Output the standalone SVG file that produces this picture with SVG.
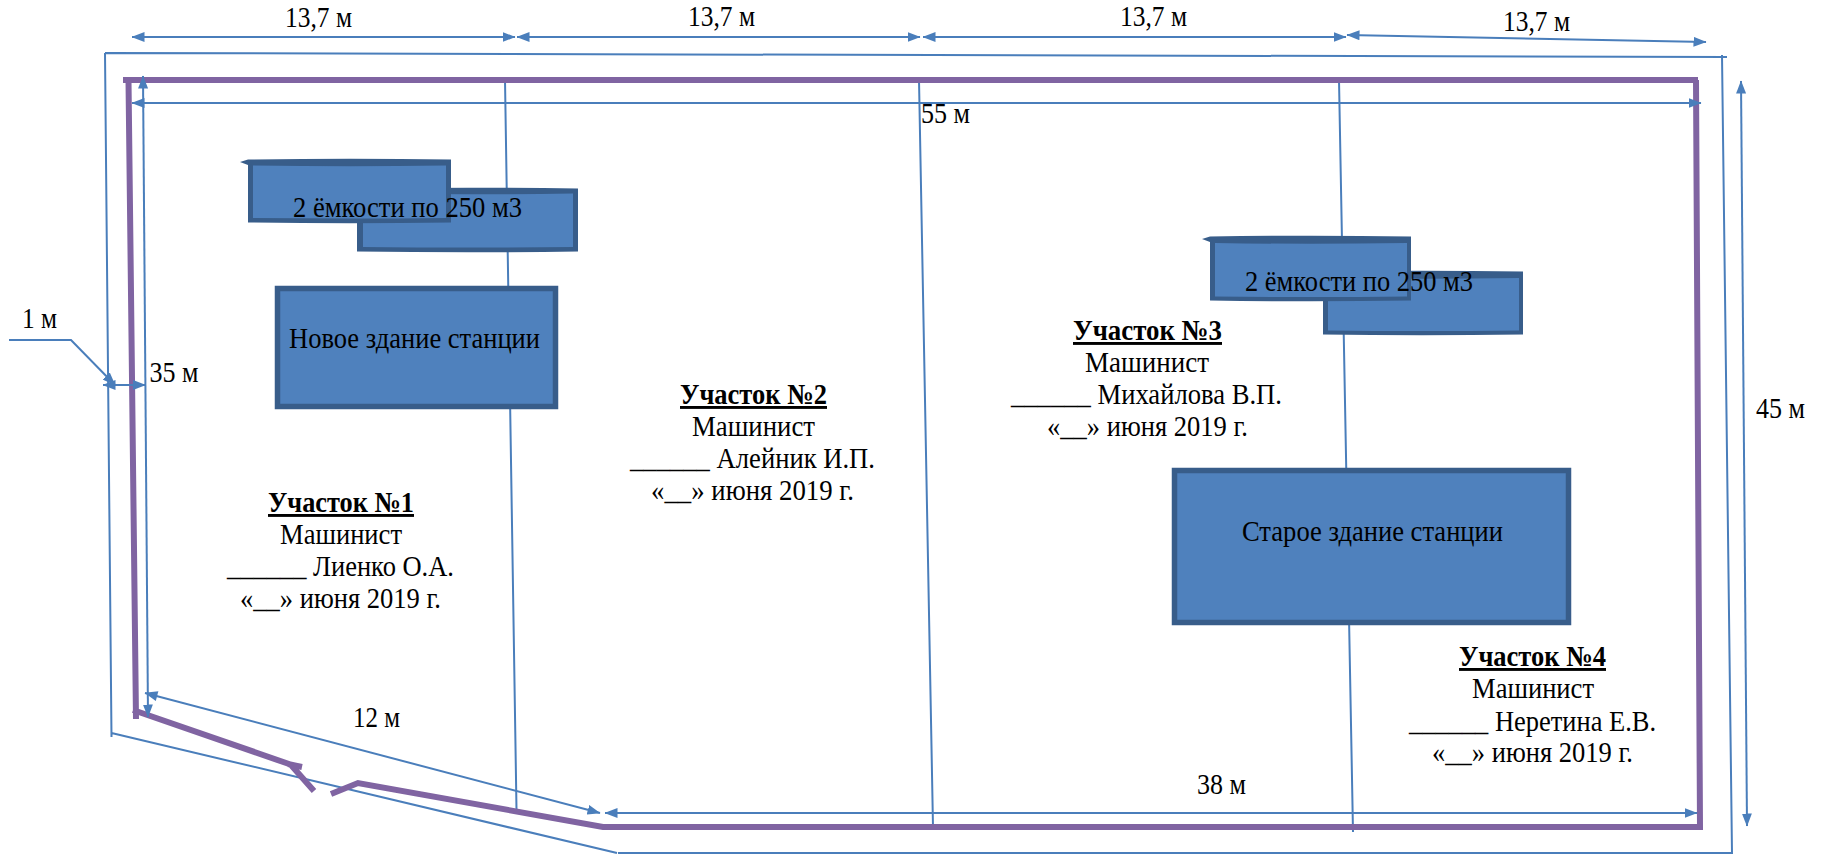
<svg xmlns="http://www.w3.org/2000/svg" width="1826" height="855" viewBox="0 0 1826 855">
<style>
text{font-family:"Liberation Serif","Times New Roman",serif;font-size:29px;fill:#000}
.t{font-weight:bold;text-decoration:underline}
.l{fill:none;stroke:#4a7ebb;stroke-width:2}
.a{marker-start:url(#s);marker-end:url(#e)}
.p{fill:none;stroke:#8064a2;stroke-width:6}
.b{fill:#4f81bd;stroke:#385d8a;stroke-width:5.500}
.o{fill:#385d8a}
.i{fill:#4f81bd}
</style>
<defs>
<marker id="e" markerUnits="userSpaceOnUse" markerWidth="14" markerHeight="10" refX="12.500" refY="5" orient="auto"><path d="M0 0L13 5L0 10z" fill="#4a7ebb"/></marker>
<marker id="s" markerUnits="userSpaceOnUse" markerWidth="14" markerHeight="10" refX="0.500" refY="5" orient="auto"><path d="M13 0L0 5L13 10z" fill="#4a7ebb"/></marker>
</defs>
<rect width="1826" height="855" fill="#fff"/>
<g id="connectors">
<path class="l" d="M105 53L1727 57M1722 55L1732 853H618M617 853L111.500 733M105 53L111.500 737"/>
<path class="l" d="M505 80L516.500 810M919 80L933 827M1339 80L1353 832"/>
<path class="p" d="M123 80H1698M128.500 80L136 719M133 710L292 765M288 764L302 767M291 765L314 791M331 794L358 783L603 827H1700L1696 80"/>
<path class="l a" d="M132 37H515"/>
<path class="l a" d="M517 37H920"/>
<path class="l a" d="M923 37H1346"/>
<path class="l a" d="M1347 35L1706 42"/>
<path class="l a" d="M132 103H1701"/>
<path class="l a" d="M143 76L148 717"/>
<path class="l a" d="M1741 81L1747 826"/>
<path class="l a" d="M605 813H1697"/>
<path class="l a" d="M145 693L600 813"/>
<path class="l a" d="M103 385H145.500"/>
<path class="l" d="M9 340H71L115 385" marker-end="url(#e)"/>
</g>
<g id="tank-2"><path class="o" d="M357 188.500Q470 187 578 188.500V251.500Q470 253 357 251.500z"/><path class="i" d="M363 193.500Q470 195 573 193.500V247Q470 248 363 247z"/></g>
<g id="tank-1"><path class="o" d="M240 162L248 159.500Q350 158 451 159.500V222.500Q350 224 248 222.500V165z"/><path class="i" d="M253 165.500Q350 167 446 165.500V218Q350 219 253 218z"/></g>
<g id="tank-label-1"><text x="293" y="217" textLength="229" lengthAdjust="spacingAndGlyphs">2 ёмкости по 250 м3</text></g>
<g id="tank-4"><path class="o" d="M1323 271.500Q1420 270 1523 271.500V334.500Q1420 336 1323 334.500z"/><path class="i" d="M1328 278Q1420 279.500 1519 278V330.500Q1420 331.500 1328 330.500z"/></g>
<g id="tank-3"><path class="o" d="M1202 239L1210 236.500Q1310 235 1411 236.500V300.500Q1310 302 1210 300.500V242z"/><path class="i" d="M1215 243Q1310 244.500 1407 243V296.500Q1310 297.500 1215 296.500z"/></g>
<g id="tank-label-2"><text x="1245" y="291" textLength="228" lengthAdjust="spacingAndGlyphs">2 ёмкости по 250 м3</text></g>
<g id="new-building"><rect class="b" x="277.500" y="288.500" width="278" height="118"/><text x="289" y="348" textLength="251" lengthAdjust="spacingAndGlyphs">Новое здание станции</text></g>
<g id="old-building"><rect class="b" x="1174.500" y="470.500" width="394" height="152"/><text x="1242" y="541" textLength="261" lengthAdjust="spacingAndGlyphs">Старое здание станции</text></g>
<g id="dims">
<text x="285" y="27" textLength="67" lengthAdjust="spacingAndGlyphs">13,7 м</text>
<text x="688" y="26" textLength="67" lengthAdjust="spacingAndGlyphs">13,7 м</text>
<text x="1120" y="26" textLength="67" lengthAdjust="spacingAndGlyphs">13,7 м</text>
<text x="1503" y="31" textLength="67" lengthAdjust="spacingAndGlyphs">13,7 м</text>
<text x="921" y="123" textLength="49" lengthAdjust="spacingAndGlyphs">55 м</text>
<text x="22" y="328" textLength="35" lengthAdjust="spacingAndGlyphs">1 м</text>
<text x="149.500" y="382" textLength="49" lengthAdjust="spacingAndGlyphs">35 м</text>
<text x="1756" y="418" textLength="49" lengthAdjust="spacingAndGlyphs">45 м</text>
<text x="353" y="727" textLength="47" lengthAdjust="spacingAndGlyphs">12 м</text>
<text x="1197" y="794" textLength="49" lengthAdjust="spacingAndGlyphs">38 м</text>
</g>
<g id="plot-1">
<text class="t" x="268" y="512" textLength="146" lengthAdjust="spacingAndGlyphs">Участок №1</text>
<text x="280" y="544" textLength="122" lengthAdjust="spacingAndGlyphs">Машинист</text>
<text x="227" y="576" textLength="227" lengthAdjust="spacingAndGlyphs">______ Лиенко О.А.</text>
<text x="240" y="608" textLength="201" lengthAdjust="spacingAndGlyphs">«__» июня 2019 г.</text>
</g>
<g id="plot-2">
<text class="t" x="680" y="404" textLength="147" lengthAdjust="spacingAndGlyphs">Участок №2</text>
<text x="692" y="436" textLength="123" lengthAdjust="spacingAndGlyphs">Машинист</text>
<text x="630" y="468" textLength="245" lengthAdjust="spacingAndGlyphs">______ Алейник И.П.</text>
<text x="651" y="500" textLength="203" lengthAdjust="spacingAndGlyphs">«__» июня 2019 г.</text>
</g>
<g id="plot-3">
<text class="t" x="1073" y="340" textLength="149" lengthAdjust="spacingAndGlyphs">Участок №3</text>
<text x="1085" y="372" textLength="124" lengthAdjust="spacingAndGlyphs">Машинист</text>
<text x="1011" y="404" textLength="271" lengthAdjust="spacingAndGlyphs">______ Михайлова В.П.</text>
<text x="1047" y="436" textLength="201" lengthAdjust="spacingAndGlyphs">«__» июня 2019 г.</text>
</g>
<g id="plot-4">
<text class="t" x="1459" y="666" textLength="147" lengthAdjust="spacingAndGlyphs">Участок №4</text>
<text x="1472" y="698" textLength="122" lengthAdjust="spacingAndGlyphs">Машинист</text>
<text x="1409" y="731" textLength="247" lengthAdjust="spacingAndGlyphs">______ Неретина Е.В.</text>
<text x="1432" y="762" textLength="201" lengthAdjust="spacingAndGlyphs">«__» июня 2019 г.</text>
</g>
</svg>
